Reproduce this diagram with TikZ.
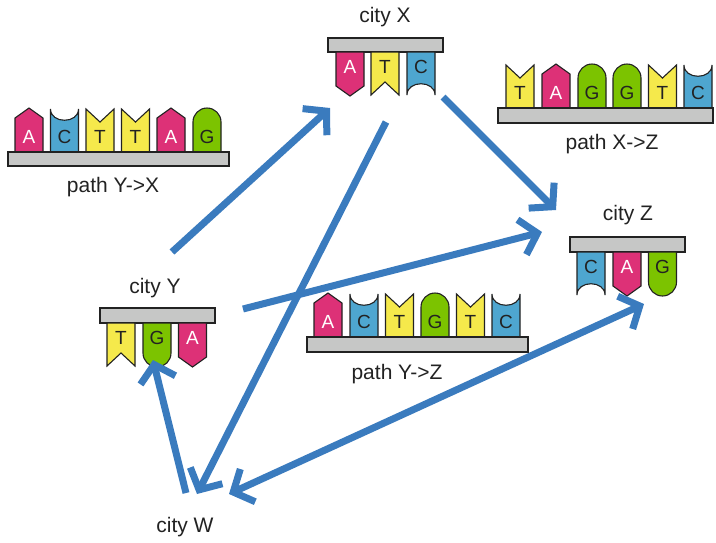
\documentclass[tikz,border=0pt]{standalone}
\usepackage{fontspec}
\setmainfont{Liberation Sans}
\usetikzlibrary{arrows.meta}
\definecolor{cA}{HTML}{DD3177}
\definecolor{cC}{HTML}{4EA6D0}
\definecolor{cT}{HTML}{F5E94B}
\definecolor{cG}{HTML}{7CC300}
\definecolor{barc}{HTML}{C6C7C6}
\definecolor{arr}{HTML}{3A7BBE}
\definecolor{ink}{HTML}{222222}
\tikzset{
  blk/.style={draw=ink, line width=1.1pt, line join=miter},
  lettr/.style={font=\fontsize{19}{21}\selectfont, inner sep=0pt},
  lbl/.style={font=\fontsize{21}{23}\selectfont, inner sep=0pt, text=ink},
  bar/.style={draw=ink, line width=1.1pt, fill=barc},
  hd/.tip={Straight Barb[length=16pt,width=36pt,sharp]},
  link/.style={draw=arr, line width=7pt, -hd},
  blink/.style={draw=arr, line width=7pt, hd-hd},
  baseA/.pic={\filldraw[blk, fill=cA] (0,0) -- (0,-34) -- (14,-44) -- (28,-34) -- (28,0) -- cycle;
              \node[lettr, text=white] at (14,-15) {A};},
  baseC/.pic={\filldraw[blk, fill=cC] (0,0) -- (0,-43) .. controls (0,-28) and (28,-28) .. (28,-43) -- (28,0) -- cycle;
              \node[lettr, text=ink] at (14,-15) {C};},
  baseT/.pic={\filldraw[blk, fill=cT] (0,0) -- (0,-43) -- (14,-30) -- (28,-43) -- (28,0) -- cycle;
              \node[lettr, text=ink] at (14,-15) {T};},
  baseG/.pic={\filldraw[blk, fill=cG] (0,0) -- (0,-30) arc[start angle=180, end angle=360, radius=14] -- (28,0) -- cycle;
              \node[lettr, text=ink] at (14,-15) {G};},
  hang/.style={yscale=-1}
}
\begin{document}
\begin{tikzpicture}[x=1pt, y=-1pt]
\useasboundingbox (0,0) rectangle (716,542);

% ---------- path Y->X ----------
\pic at (15,152) {baseA};
\pic at (50.5,152) {baseC};
\pic at (86,152) {baseT};
\pic at (121.5,152) {baseT};
\pic at (157,152) {baseA};
\pic at (193,152) {baseG};
\draw[bar] (8,152) rectangle (229,166);
\node[lbl] (pyx) at (113,187) {path Y->X};

% ---------- city X ----------
\draw[bar] (328,38) rectangle (443,52);
\pic[hang] at (336,52) {baseA};
\pic[hang] at (371,52) {baseT};
\pic[hang] at (407,52) {baseC};
\node[lbl] (cx) at (385,17) {city X};

% ---------- path X->Z ----------
\pic at (506,108) {baseT};
\pic at (542,108) {baseA};
\pic at (578,108) {baseG};
\pic at (613,108) {baseG};
\pic at (648.5,108) {baseT};
\pic at (684,108) {baseC};
\draw[bar] (498,108) rectangle (713,123);
\node[lbl] (pxz) at (612,144) {path X->Z};

% ---------- city Z ----------
\draw[bar] (570,237) rectangle (685,252);
\pic[hang] at (577,252) {baseC};
\pic[hang] at (613,252) {baseA};
\pic[hang] at (648.5,252) {baseG};
\node[lbl] (cz) at (628,215) {city Z};

% ---------- city Y ----------
\draw[bar] (100,308) rectangle (215,323);
\pic[hang] at (107,323) {baseT};
\pic[hang] at (143,323) {baseG};
\pic[hang] at (178.5,323) {baseA};
\node[lbl] (cy) at (155,288) {city Y};

% ---------- path Y->Z ----------
\pic at (314,337) {baseA};
\pic at (350,337) {baseC};
\pic at (385.5,337) {baseT};
\pic at (421,337) {baseG};
\pic at (456.5,337) {baseT};
\pic at (492,337) {baseC};
\draw[bar] (307,337) rectangle (528,352);
\node[lbl] (pyz) at (397,374) {path Y->Z};

% ---------- city W ----------
\node[lbl] (cw) at (185,527) {city W};

% ---------- arrow end points ----------
\coordinate (yout1) at (172,252);
\coordinate (xin) at (330,108);
\coordinate (xout1) at (443,97);
\coordinate (zin1) at (556,210);
\coordinate (yout2) at (243,309);
\coordinate (zin2) at (542,232);
\coordinate (xout2) at (386,122);
\coordinate (win1) at (197,494);
\coordinate (wout) at (186,493);
\coordinate (yin) at (153,360);
\coordinate (wend) at (229,494);
\coordinate (zend) at (644,304);

\draw[link] (yout1) -- (xin);
\draw[link] (xout1) -- (zin1);
\draw[link] (yout2) -- (zin2);
\draw[link] (xout2) -- (win1);
\draw[link] (wout) -- (yin);
\draw[blink] (wend) -- (zend);
\end{tikzpicture}
\end{document}
